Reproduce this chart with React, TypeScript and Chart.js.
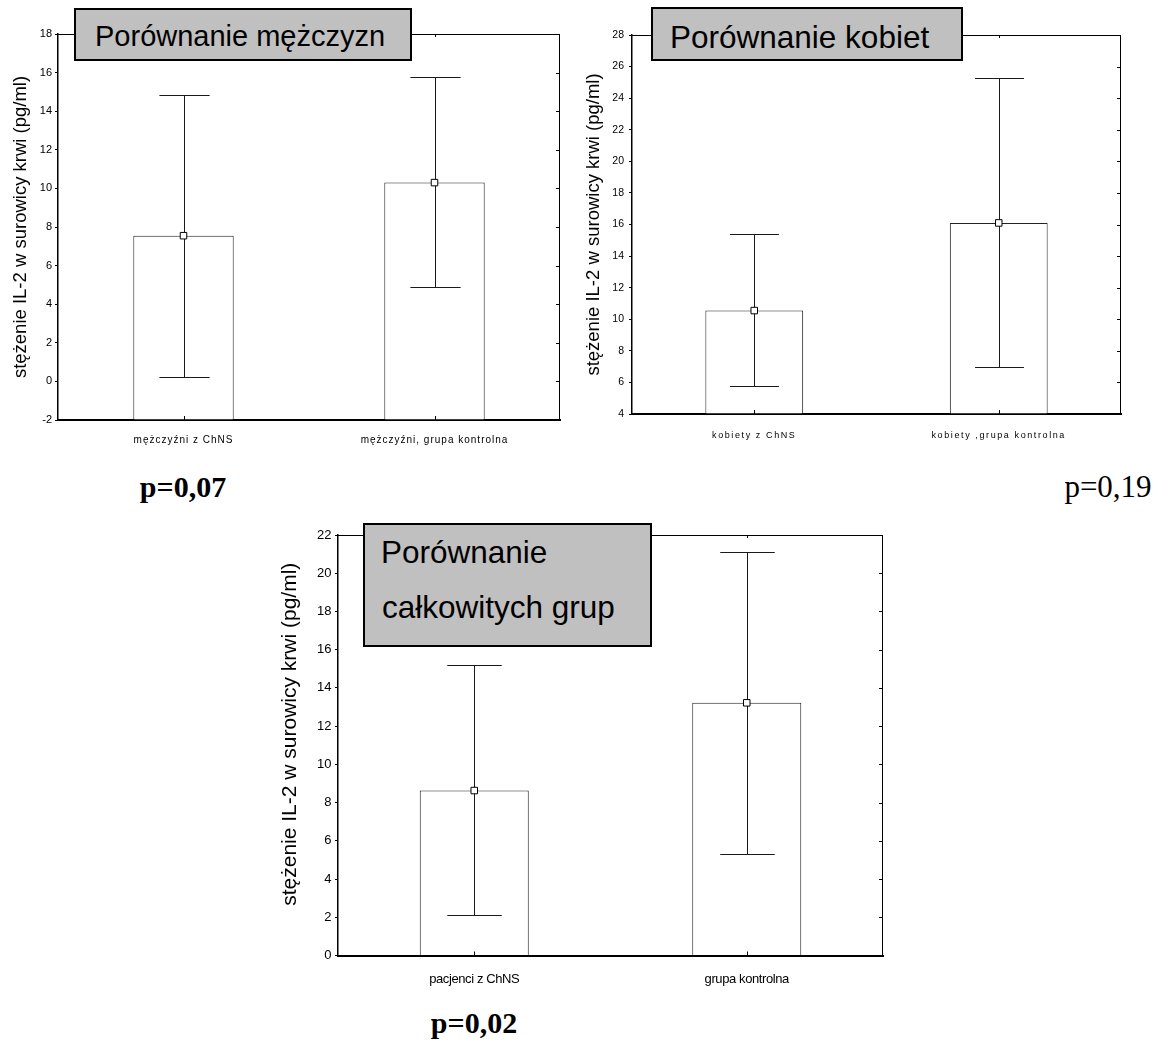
import React, { useEffect, useRef } from 'react';
import { Chart, registerables } from 'chart.js';

Chart.register(...registerables);

const SANS = '"Liberation Sans", Arial, Helvetica, sans-serif';
const SERIF = '"Liberation Serif", "Times New Roman", serif';
const AXIS_TITLE = 'stężenie IL-2 w surowicy krwi (pg/ml)';

// Men: patients vs controls
const menGroups = ['mężczyźni z ChNS', 'mężczyźni, grupa kontrolna'];
const menMeans = [7.55, 10.3];
const menLower = [0.24, 4.87];
const menUpper = [14.82, 15.78];
const menAxis = [-2, 18, 2];

// Women: patients vs controls
const womenGroups = ['kobiety z ChNS', 'kobiety ,grupa kontrolna'];
const womenMeans = [10.55, 16.1];
const womenLower = [5.8, 7.0];
const womenUpper = [15.4, 25.25];
const womenAxis = [4, 28, 2];

// Whole groups
const allGroups = ['pacjenci z ChNS', 'grupa kontrolna'];
const allMeans = [8.63, 13.22];
const allLower = [2.1, 5.3];
const allUpper = [15.2, 21.13];
const allAxis = [0, 22, 2];

type Box = { left: number; top: number; width: number; height: number };
type Area = { left: number; top: number; right: number; bottom: number };

type PanelProps = {
  box: Box;
  area: Area;
  groups: string[];
  means: number[];
  lower: number[];
  upper: number[];
  axis: number[];
  tickSize: number;
  tickPad: number;
  titleSize: number;
  titlePad: number;
  titleShift: number;
  labelSize: number;
  labelPad: number;
  labelSpacing: number;
};

function Panel(p: PanelProps) {
  const ref = useRef<HTMLCanvasElement>(null);

  useEffect(() => {
    const canvas = ref.current;
    if (!canvas) return;
    const { width, height } = p.box;

    // whiskers: vertical line with caps, drawn right after the bars
    const errorBars = {
      id: 'errorBars',
      afterDatasetDraw(chart: any, args: any) {
        if (args.meta.type !== 'bar') return;
        const { ctx } = chart;
        const y = chart.scales.y;
        ctx.save();
        ctx.strokeStyle = '#1a1a1a';
        ctx.lineWidth = 1;
        args.meta.data.forEach((bar: any, i: number) => {
          const x = Math.round(bar.x) + 0.5;
          const half = bar.width / 4;
          const hi = Math.round(y.getPixelForValue(p.upper[i])) + 0.5;
          const lo = Math.round(y.getPixelForValue(p.lower[i])) + 0.5;
          ctx.beginPath();
          ctx.moveTo(x, hi);
          ctx.lineTo(x, lo);
          ctx.moveTo(x - half, hi);
          ctx.lineTo(x + half, hi);
          ctx.moveTo(x - half, lo);
          ctx.lineTo(x + half, lo);
          ctx.stroke();
        });
        ctx.restore();
      },
    };

    // top and right frame with inner tick marks
    const frame = {
      id: 'frame',
      afterDatasetsDraw(chart: any) {
        const { ctx, chartArea } = chart;
        const { left, right, top, bottom } = chartArea;
        const x = chart.scales.x;
        const y = chart.scales.y;
        ctx.save();
        ctx.strokeStyle = '#000';
        ctx.lineWidth = 1;
        ctx.beginPath();
        ctx.moveTo(left, top + 0.5);
        ctx.lineTo(right, top + 0.5);
        ctx.moveTo(right - 0.5, top);
        ctx.lineTo(right - 0.5, bottom);
        y.ticks.forEach((t: any) => {
          const py = Math.round(y.getPixelForValue(t.value)) + 0.5;
          ctx.moveTo(right, py);
          ctx.lineTo(right - 4, py);
        });
        x.ticks.forEach((_t: any, i: number) => {
          const px = Math.round(x.getPixelForTick(i)) + 0.5;
          ctx.moveTo(px, top);
          ctx.lineTo(px, top + 3);
          ctx.moveTo(px, bottom);
          ctx.lineTo(px, bottom - 4);
        });
        ctx.stroke();
        ctx.restore();
      },
    };

    // letter spacing for category labels, vertical nudge for the axis title
    const textTweaks = {
      id: 'textTweaks',
      beforeDraw(chart: any) {
        const xs = chart.scales.x;
        const ys = chart.scales.y;
        if (xs.__tweaked) return;
        const drawLabels = xs.drawLabels.bind(xs);
        xs.drawLabels = (area: any) => {
          const c: any = chart.ctx;
          c.save();
          c.letterSpacing = `${p.labelSpacing}px`;
          drawLabels(area);
          c.restore();
        };
        const drawTitle = ys.drawTitle.bind(ys);
        ys.drawTitle = () => {
          const c: any = chart.ctx;
          c.save();
          c.translate(0, p.titleShift);
          drawTitle();
          c.restore();
        };
        xs.__tweaked = true;
      },
    };

    const chart = new Chart(canvas, {
      type: 'bar',
      data: {
        labels: p.groups,
        datasets: [
          {
            type: 'line',
            data: p.means,
            showLine: false,
            pointStyle: 'rect',
            pointRadius: 4.6,
            pointBackgroundColor: '#ffffff',
            pointBorderColor: '#000000',
            pointBorderWidth: 1,
            order: 0,
          } as any,
          {
            type: 'bar',
            data: p.means,
            base: p.axis[0],
            backgroundColor: '#ffffff',
            borderColor: '#222222',
            borderWidth: 1,
            barPercentage: 0.4,
            categoryPercentage: 1,
            order: 1,
          } as any,
        ],
      },
      options: {
        animation: false,
        responsive: false,
        maintainAspectRatio: false,
        events: [],
        layout: {
          padding: { top: p.area.top, right: width - p.area.right, left: 0, bottom: 0 },
        },
        plugins: {
          legend: { display: false },
          tooltip: { enabled: false },
          title: { display: false },
        },
        scales: {
          x: {
            type: 'category',
            offset: true,
            grid: { display: false },
            border: { display: true, color: '#000', width: 2 },
            ticks: {
              autoSkip: false,
              maxRotation: 0,
              minRotation: 0,
              color: '#000',
              padding: p.labelPad,
              font: { family: SANS, size: p.labelSize },
            },
            afterFit: (s: any) => {
              s.height = height - p.area.bottom;
            },
          },
          y: {
            type: 'linear',
            min: p.axis[0],
            max: p.axis[1],
            ticks: {
              stepSize: p.axis[2],
              color: '#000',
              padding: p.tickPad,
              font: { family: SANS, size: p.tickSize },
            },
            grid: { drawOnChartArea: false, drawTicks: true, tickLength: 3, color: '#000' },
            border: { display: true, color: '#000', width: 1.5 },
            title: {
              display: true,
              text: AXIS_TITLE,
              color: '#000',
              font: { family: SANS, size: p.titleSize },
              padding: { top: p.titlePad, bottom: 0 },
            },
            afterFit: (s: any) => {
              s.width = p.area.left;
            },
          },
        },
      } as any,
      plugins: [errorBars, frame, textTweaks],
    });

    return () => chart.destroy();
  }, []);

  return (
    <canvas
      ref={ref}
      width={p.box.width}
      height={p.box.height}
      style={{
        position: 'absolute',
        left: p.box.left,
        top: p.box.top,
        width: p.box.width,
        height: p.box.height,
      }}
    />
  );
}

function TitleBox({ left, top, width, height }: Box) {
  return (
    <div
      style={{
        position: 'absolute',
        left,
        top,
        width,
        height,
        boxSizing: 'border-box',
        background: '#c0c0c0',
        border: '2px solid #000',
      }}
    />
  );
}

type TextProps = {
  x: number;
  baseline: number;
  size: number;
  serif?: boolean;
  bold?: boolean;
  center?: boolean;
  children: React.ReactNode;
};

function Text({ x, baseline, size, serif, bold, center, children }: TextProps) {
  const k = serif ? 0.8375 : 0.8465;
  return (
    <div
      style={{
        position: 'absolute',
        left: x,
        top: baseline - k * size,
        fontFamily: serif ? SERIF : SANS,
        fontSize: size,
        fontWeight: bold ? 'bold' : 'normal',
        lineHeight: `${size}px`,
        whiteSpace: 'nowrap',
        color: '#000',
        transform: center ? 'translateX(-50%)' : undefined,
      }}
    >
      {children}
    </div>
  );
}

export default function App() {
  return (
    <div
      style={{
        position: 'absolute',
        left: 0,
        top: 0,
        width: 1173,
        height: 1046,
        overflow: 'hidden',
        background: '#fff',
      }}
    >
      <Panel
        box={{ left: 0, top: 0, width: 580, height: 445 }}
        area={{ left: 58, top: 34, right: 560, bottom: 420 }}
        groups={menGroups}
        means={menMeans}
        lower={menLower}
        upper={menUpper}
        axis={menAxis}
        tickSize={11}
        tickPad={3}
        titleSize={18.5}
        titlePad={10}
        titleShift={0}
        labelSize={10}
        labelPad={6}
        labelSpacing={1}
      />
      <Panel
        box={{ left: 580, top: 0, width: 593, height: 445 }}
        area={{ left: 52, top: 35, right: 541, bottom: 414 }}
        groups={womenGroups}
        means={womenMeans}
        lower={womenLower}
        upper={womenUpper}
        axis={womenAxis}
        tickSize={10.5}
        tickPad={5}
        titleSize={18.5}
        titlePad={2.5}
        titleShift={0}
        labelSize={9}
        labelPad={8}
        labelSpacing={1.6}
      />
      <Panel
        box={{ left: 240, top: 500, width: 680, height: 500 }}
        area={{ left: 98, top: 35, right: 643, bottom: 455.5 }}
        groups={allGroups}
        means={allMeans}
        lower={allLower}
        upper={allUpper}
        axis={allAxis}
        tickSize={13}
        tickPad={3.5}
        titleSize={21}
        titlePad={38}
        titleShift={-11}
        labelSize={13}
        labelPad={8}
        labelSpacing={-0.4}
      />

      <TitleBox left={74} top={8} width={338} height={53} />
      <Text x={95} baseline={46.7} size={29}>Porównanie mężczyzn</Text>

      <TitleBox left={651} top={7} width={312} height={54} />
      <Text x={670} baseline={48.3} size={31.5}>Porównanie kobiet</Text>

      <TitleBox left={363} top={523} width={289} height={124} />
      <Text x={381} baseline={563.3} size={31.5}>Porównanie</Text>
      <Text x={382} baseline={618.3} size={31.5}>całkowitych grup</Text>

      <Text x={183} baseline={497} size={30} serif bold center>p=0,07</Text>
      <Text x={1108} baseline={497} size={31} serif center>p=0,19</Text>
      <Text x={474} baseline={1033} size={30} serif bold center>p=0,02</Text>
    </div>
  );
}
